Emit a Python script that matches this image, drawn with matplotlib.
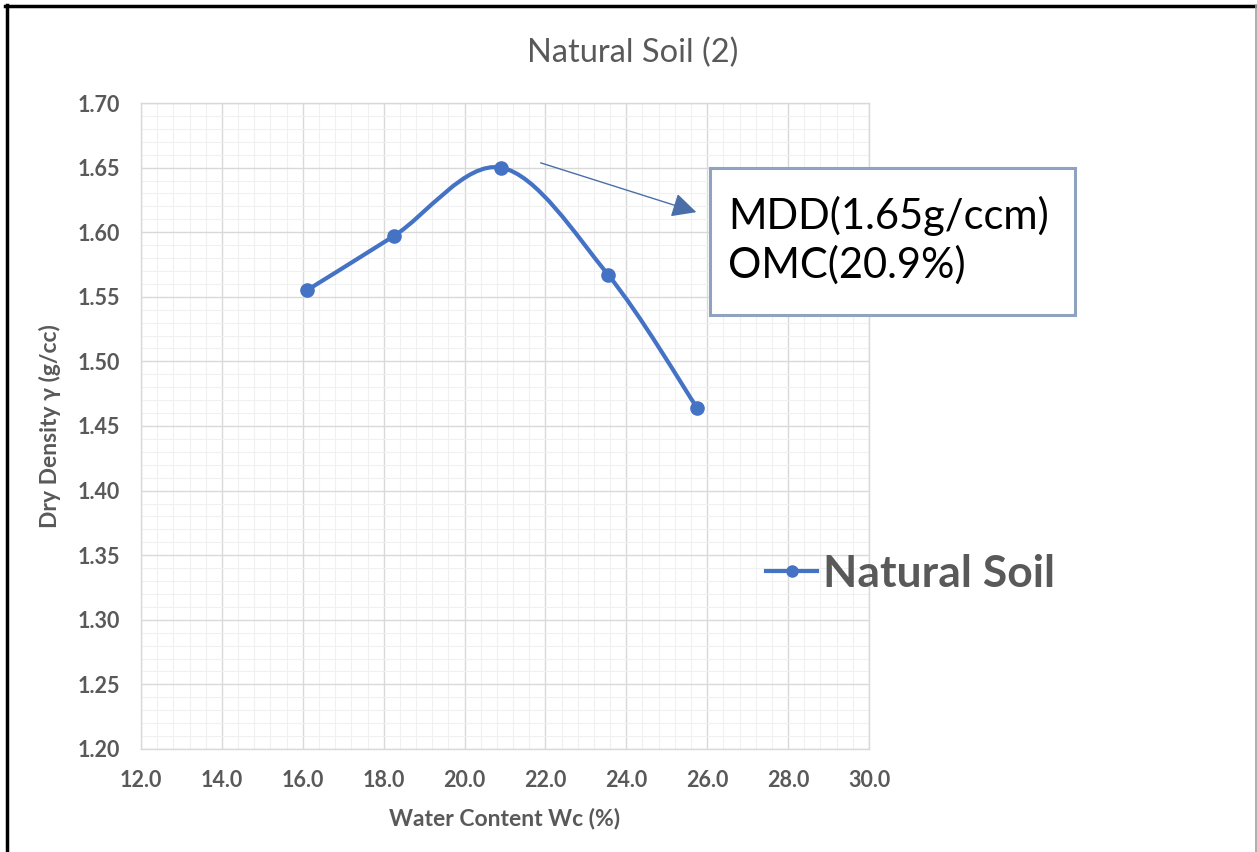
import numpy as np
import matplotlib
matplotlib.use("Agg")
import matplotlib.pyplot as plt
from matplotlib.path import Path
from matplotlib.patches import PathPatch, FancyArrowPatch, Rectangle
from matplotlib.lines import Line2D
from matplotlib.ticker import MultipleLocator, FormatStrFormatter

plt.rcParams['font.family'] = ['Lato', 'DejaVu Sans']

# compaction test, natural soil sample 2
water_content = [16.1, 18.25, 20.9, 23.55, 25.75]   # Wc (%)
dry_density = [1.555, 1.597, 1.650, 1.567, 1.464]   # g/cc
series_name = "Natural Soil"
mdd_text = "MDD(1.65g/ccm)\nOMC(20.9%)"

blue = '#4472C4'
grey_txt = '#595959'

fig = plt.figure(figsize=(12.57, 8.52), dpi=100)
ax = fig.add_axes([0.1122, 0.1209, 0.5791, 0.7582])

# smoothed line through the points (Catmull-Rom style bezier, like a spreadsheet "smooth line")
pts = np.column_stack([water_content, dry_density])
ext = np.vstack([pts[0], pts, pts[-1]])
verts = [tuple(pts[0])]
codes = [Path.MOVETO]
for i in range(len(pts) - 1):
    p0, p1, p2, p3 = ext[i], ext[i + 1], ext[i + 2], ext[i + 3]
    c1 = p1 + (p2 - p0) / 6.0
    c2 = p2 - (p3 - p1) / 6.0
    verts += [tuple(c1), tuple(c2), tuple(p2)]
    codes += [Path.CURVE4] * 3
ax.add_patch(PathPatch(Path(verts, codes), fill=False, edgecolor=blue, lw=3.0,
                       capstyle='round', joinstyle='round', zorder=3))
ax.plot(water_content, dry_density, 'o', color=blue, ms=9.5, zorder=4)

ax.set_xlim(12, 30)
ax.set_ylim(1.20, 1.70)
ax.xaxis.set_major_locator(MultipleLocator(2))
ax.xaxis.set_minor_locator(MultipleLocator(0.4))
ax.yaxis.set_major_locator(MultipleLocator(0.05))
ax.yaxis.set_minor_locator(MultipleLocator(0.01))
ax.xaxis.set_major_formatter(FormatStrFormatter('%.1f'))
ax.yaxis.set_major_formatter(FormatStrFormatter('%.2f'))
ax.grid(which='major', color='#D9D9D9', lw=1.0)
ax.grid(which='minor', color='#F0F0F0', lw=0.8)
ax.set_axisbelow(True)
for s in ax.spines.values():
    s.set_color('#D9D9D9')
    s.set_linewidth(1.0)
ax.tick_params(which='both', length=0)
ax.tick_params(axis='y', pad=15, labelsize=15.5, labelcolor=grey_txt)
ax.tick_params(axis='x', pad=15, labelsize=15.5, labelcolor=grey_txt)
for lab in ax.get_xticklabels() + ax.get_yticklabels():
    lab.set_fontweight('bold')

ax.set_xlabel("Water Content Wc (%)", fontsize=16.5, fontweight='bold', color=grey_txt, labelpad=12)
ax.set_ylabel("Dry Density γ (g/cc)", fontsize=16.5, fontweight='bold', color=grey_txt, labelpad=12)
fig.text(0.5035, 1 - 53 / 852, "Natural Soil (2)", ha='center', va='center',
         fontsize=23.5, color=grey_txt)

# MDD / OMC callout box and arrow
box_x0, box_y0, box_x1, box_y1 = 710 / 1257, 1 - 315 / 852, 1075 / 1257, 1 - 168 / 852
fig.add_artist(Rectangle((box_x0, box_y0), box_x1 - box_x0, box_y1 - box_y0,
                         transform=fig.transFigure, fill=True, facecolor='white',
                         edgecolor='#8FA3C0', lw=2.2, zorder=5))
fig.text(728 / 1257, 1 - 240 / 852, mdd_text, ha='left', va='center', fontsize=30,
         color='black', linespacing=1.3, zorder=6)
fig.add_artist(FancyArrowPatch((538 / 1257, 1 - 162 / 852), (699 / 1257, 1 - 213 / 852),
                               transform=fig.transFigure, arrowstyle='-|>,head_length=10,head_width=5',
                               color='#4A6FA8', lw=1.0, mutation_scale=1.5, zorder=6))

# legend
handle = Line2D([], [], color=blue, lw=3.0, marker='o', ms=8)
fig.legend(handles=[handle], labels=[series_name], loc='center left',
           bbox_to_anchor=(744 / 1257, 1 - 574 / 852), frameon=False, borderpad=0,
           handlelength=1.15, handletextpad=0.12,
           prop={'size': 32, 'weight': 'bold'}, labelcolor=grey_txt)

# outer frame
fig.add_artist(Line2D([5 / 1257, 1], [1 - 6 / 852, 1 - 6 / 852], transform=fig.transFigure,
                      color='black', lw=2.5))
fig.add_artist(Line2D([7 / 1257, 7 / 1257], [0, 1 - 5 / 852], transform=fig.transFigure,
                      color='black', lw=2.5))
fig.add_artist(Line2D([1255.5 / 1257, 1255.5 / 1257], [0, 1 - 5 / 852], transform=fig.transFigure,
                      color='#A0A0A0', lw=1.2))

fig.savefig('out.png', dpi=100)
